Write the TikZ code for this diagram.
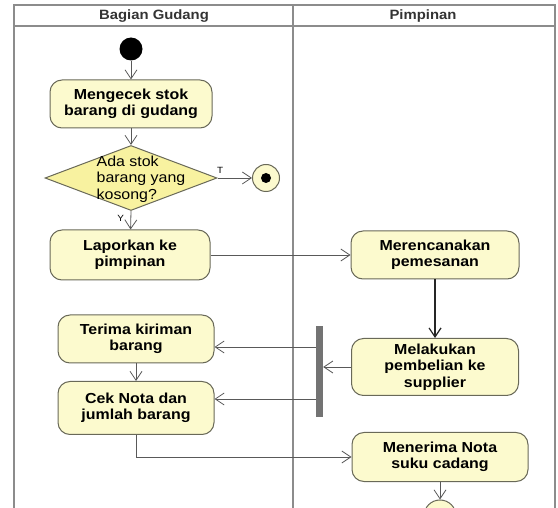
\documentclass[tikz,border=0pt]{standalone}
\usepackage{fontspec}
\setmainfont{Liberation Sans}
\newfontfamily\umlfont[FakeStretch=1.1]{Liberation Sans}
\usetikzlibrary{positioning,calc,shapes.geometric,arrows.meta}

\definecolor{actfill}{RGB}{252,250,206}
\definecolor{decfill}{RGB}{248,242,160}
\definecolor{actline}{RGB}{105,105,88}
\definecolor{laneline}{RGB}{140,140,140}

\begin{document}
\begin{tikzpicture}[
    x=1pt, y=-1pt,
    act/.style={draw=actline, fill=actfill, line width=1pt, rounded corners=12pt, align=center,
      font=\umlfont\bfseries\fontsize{14.5}{16.5}\selectfont, inner sep=0pt},
    decision/.style={diamond, draw=actline, fill=decfill, line width=1pt, inner sep=0pt},
    arrow/.style={-{Straight Barb[length=9pt,width=12pt]}, draw=black!65, line width=0.8pt},
    lane/.style={draw=laneline, line width=1.2pt},
    lanehead/.style={font=\umlfont\bfseries\fontsize{13.5}{16}\selectfont, text=black!80}
  ]
    \useasboundingbox (0,0) rectangle (558,508);

    % swimlanes
    \draw[lane] (14,5) rectangle (555,530);
    \draw[lane] (14,26) -- (555,26);
    \draw[lane] (293,5) -- (293,530);
    \node[lanehead] (hGudang) at (154,16) {Bagian Gudang};
    \node[lanehead] (hPimpinan) at (423,16) {Pimpinan};

    % nodes
    \node[circle, fill=black, minimum size=23pt, inner sep=0pt] (start) at (131,49) {};
    \node[act, minimum width=162pt, minimum height=48pt] (cek) at (131,104) {Mengecek stok\\barang di gudang};
    \node[decision, minimum width=172pt, minimum height=65pt] (dec) at (131,178) {};
    \node[align=left, font=\umlfont\fontsize{14.5}{16.5}\selectfont, inner sep=0pt] (decText) at (141,179) {Ada stok\\barang yang\\kosong?};
    \node[circle, draw=actline, fill=actfill, line width=1pt, minimum size=27pt, inner sep=0pt] (end1) at (266,178) {};
    \node[circle, fill=black, minimum size=10pt, inner sep=0pt] (end1dot) at (end1) {};
    \node[act, minimum width=160pt, minimum height=50pt] (lapor) at (130,255) {Laporkan ke\\pimpinan};
    \node[act, minimum width=168pt, minimum height=48pt] (rencana) at (435,255) {Merencanakan\\pemesanan};
    \node[act, minimum width=167pt, minimum height=57pt] (beli) at (435,367) {Melakukan\\pembelian ke\\supplier};
    \node[fill=black!55, minimum width=7pt, minimum height=91pt, inner sep=0pt] (bar) at (319.5,372) {};
    \node[act, minimum width=156pt, minimum height=48pt] (terima) at (136,339) {Terima kiriman\\barang};
    \node[act, minimum width=156pt, minimum height=53pt] (nota) at (136,408) {Cek Nota dan\\jumlah barang};
    \node[act, minimum width=176pt, minimum height=49pt] (nerima) at (440,457) {Menerima Nota\\suku cadang};
    \node[circle, draw=actline, fill=actfill, line width=1pt, minimum size=32pt, inner sep=0pt] (end2) at (440,516) {};

    % transitions
    \draw[arrow] (start) -- (cek);
    \draw[arrow] (cek) -- (dec);
    \draw[arrow] (dec.east) -- node[pos=0.08, above=1pt, font=\umlfont\fontsize{9}{10}\selectfont] {T} (end1);
    \draw[arrow] (dec.south) -- node[pos=0.4, left=3pt, font=\umlfont\fontsize{9}{10}\selectfont] {Y} (lapor);
    \draw[arrow] (lapor) -- (rencana);
    \draw[arrow, draw=black!85, line width=1.2pt] (rencana) -- (beli);
    \draw[arrow] (beli.west) -- (beli.west -| bar.east);
    \draw[arrow] ([yshift=-8pt]terima.east -| bar.west) -- ([yshift=-8pt]terima.east);
    \draw[arrow] ([yshift=9pt]nota.east -| bar.west) -- ([yshift=9pt]nota.east);
    \draw[arrow] (terima) -- (nota);
    \draw[arrow] (nota.south) |- (nerima.west);
    \draw[arrow] (nerima) -- (end2);
\end{tikzpicture}
\end{document}
